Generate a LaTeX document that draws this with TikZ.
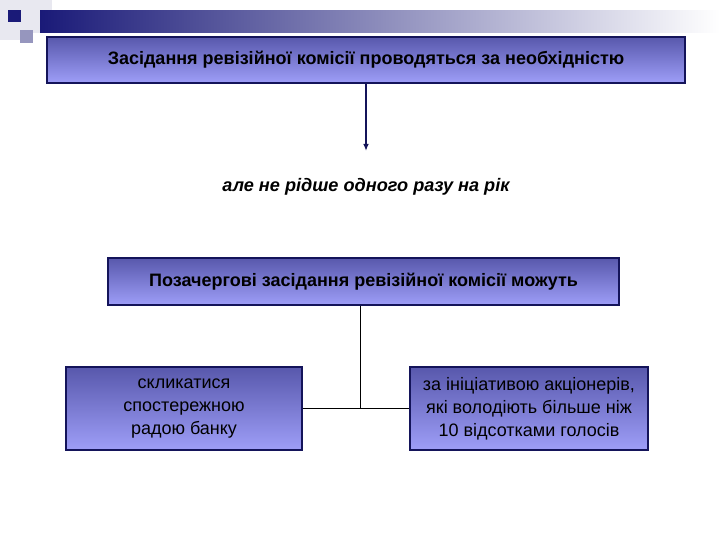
\documentclass[tikz,border=0pt]{standalone}
\usepackage{fontspec}
\setmainfont{Liberation Sans}
\usetikzlibrary{positioning,arrows.meta}
\definecolor{navyline}{RGB}{20,20,90}
\definecolor{boxtop}{RGB}{88,88,172}
\definecolor{boxbottom}{RGB}{158,158,248}
\definecolor{barleft}{RGB}{26,26,120}
\definecolor{sqlight}{RGB}{232,232,240}
\definecolor{sqmid}{RGB}{150,150,190}
\tikzset{
  bluebox/.style={draw=navyline, line width=1.2pt, top color=boxtop, bottom color=boxbottom,
    align=center, inner sep=2pt, font=\fontsize{12.8}{16.3}\selectfont},
  link/.style={draw=black, line width=0.6pt}
}

\begin{document}
\begin{tikzpicture}[x=0.025cm, y=-0.025cm]
            \useasboundingbox (0,0) rectangle (720,540);
            % corner squares and top bar
            \fill[sqlight] (0,0) rectangle (30,40);
            \fill[sqlight] (30,0) rectangle (52,33);
            \fill[sqmid] (20,30) rectangle (33,43);
            \fill[barleft] (8,10) rectangle (21,22);
            \shade[left color=barleft, right color=white] (40,10) rectangle (720,32);
            % boxes
            \node[bluebox, minimum width=15.95cm, minimum height=1.15cm, font=\fontsize{12.8}{16.3}\selectfont\bfseries]
                (meet) at (366,60) {Засідання ревізійної комісії проводяться за необхідністю};
            \node[font=\fontsize{12.9}{16}\selectfont\bfseries\itshape] (rare) at (366,187) {але не рідше одного разу на рік};
            \coordinate (tip) at (366,151);
            \draw[navyline, line width=1.2pt, -{Latex[length=5pt,width=4pt]}] (meet.south) -- (tip);
            \node[bluebox, minimum width=12.78cm, minimum height=1.18cm, font=\fontsize{12.8}{16.3}\selectfont\bfseries]
                (extra) at (363.5,281.5) {Позачергові засідання ревізійної комісії можуть};
            \node[bluebox, minimum width=5.9cm, minimum height=2.07cm]
                (board) at (184,408.5) {скликатися\\спостережною\\радою банку};
            \node[bluebox, minimum width=5.95cm, minimum height=2.07cm]
                (holders) at (529,408.5) {за ініціативою акціонерів,\\які володіють більше ніж\\10 відсотками голосів};
            \coordinate (fork) at (360,408);
            \draw[link] (extra.south -| fork) -- (fork);
            \draw[link] (board.east) -- (holders.west);
        \end{tikzpicture}
\end{document}
